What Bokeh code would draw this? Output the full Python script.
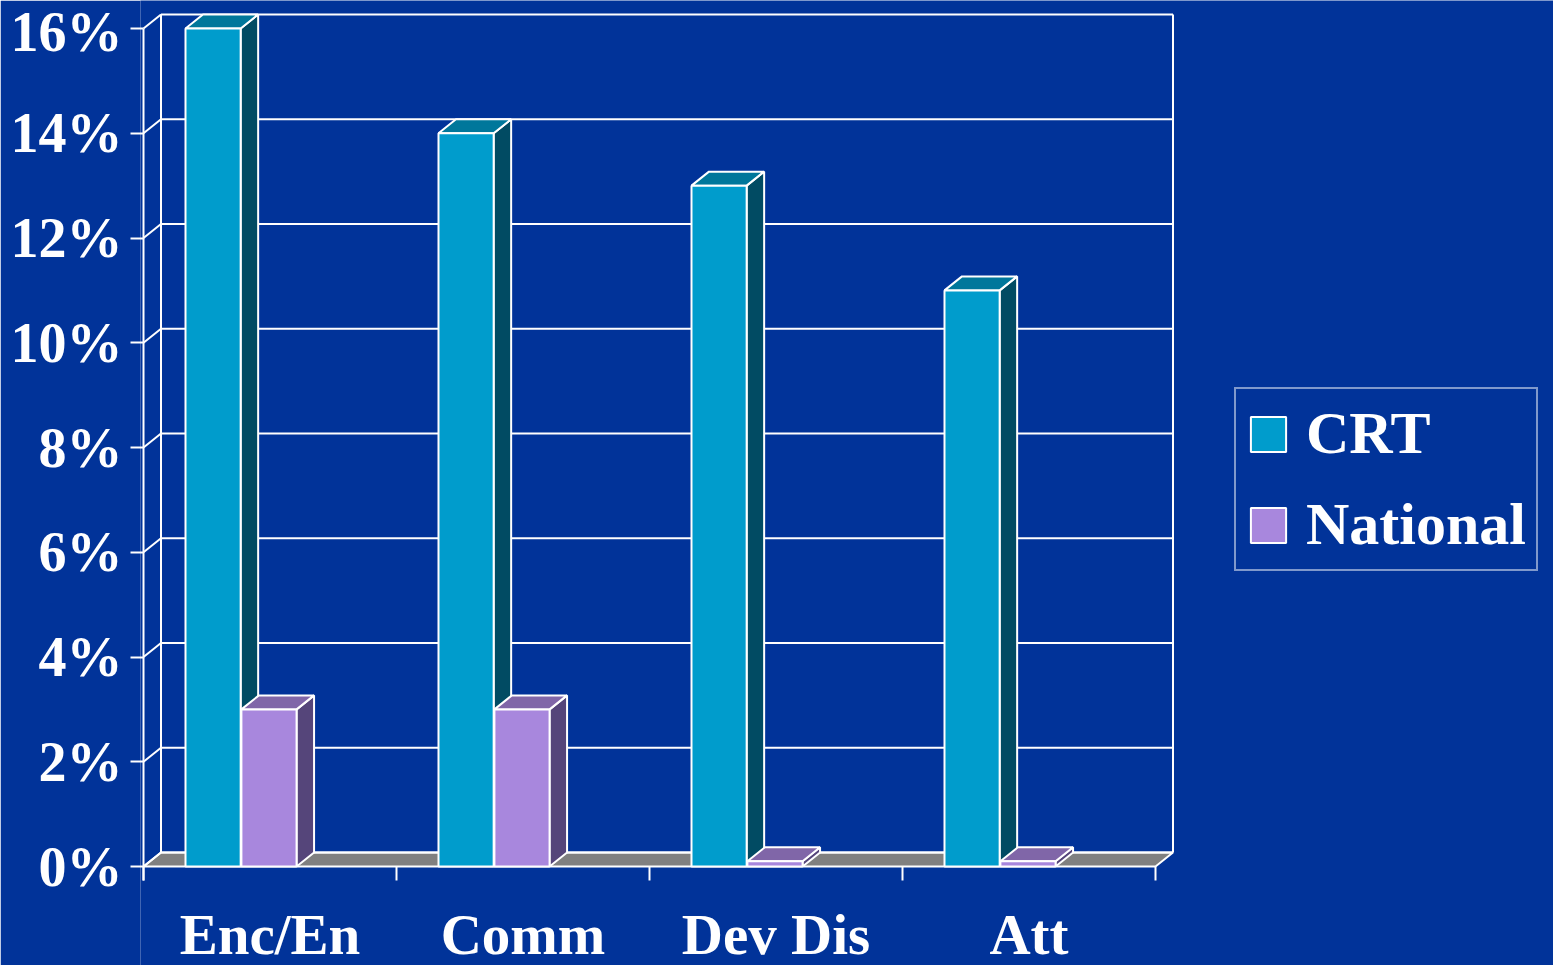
from bokeh.plotting import figure
from bokeh.models import FixedTicker, Legend, LegendItem, Range1d
from bokeh.core.properties import value
from bokeh.embed import file_html
from bokeh.resources import INLINE

# ---- data ----
categories = ["Enc/En", "Comm", "Dev Dis", "Att"]
crt = [16, 14, 13, 11]
national = [3, 3, 0.1, 0.1]
y_ticks = [0, 2, 4, 6, 8, 10, 12, 14, 16]
y_labels = ["0%", "2%", "4%", "6%", "8%", "10%", "12%", "14%", "16%"]

# ---- style / geometry ----
BG = "#013399"
CRT_FRONT, CRT_SIDE, CRT_TOP = "#009ccc", "#014b63", "#00779b"
NAT_FRONT, NAT_SIDE, NAT_TOP = "#a887dd", "#55457a", "#8066a8"
FLOOR = "#808080"
FONT = "Liberation Serif"

PX_X = 253.0      # pixels per category
PX_Y = 52.375     # pixels per percent
DX = 17.5 / PX_X  # depth offset in x units
DY = 14.0 / PX_Y  # depth offset in y units
BAR_W = 0.218
CRT_OFF = 0.166
NAT_OFF = 0.387
YMAX = y_ticks[-1]
N = len(categories)
TICK_LEN = 14 / PX_Y
LABEL_Y = -68 / PX_Y

x0 = -3 / PX_X
y0 = -(965 - 866) / PX_Y
p = figure(width=1553, height=965, output_backend="svg", toolbar_location=None,
           x_range=Range1d(x0, x0 + (1553 - 140) / PX_X), y_range=Range1d(y0, 866 / PX_Y),
           min_border_left=140, min_border_right=0, min_border_top=0, min_border_bottom=0)
p.background_fill_color = BG
p.border_fill_color = BG
p.outline_line_color = None
p.grid.visible = False
p.xaxis.visible = False

# ---- y axis ----
p.yaxis.ticker = FixedTicker(ticks=y_ticks)
p.yaxis.major_label_overrides = {t: l for t, l in zip(y_ticks, y_labels)}
p.yaxis.axis_line_color = None
p.yaxis.major_tick_line_color = "white"
p.yaxis.major_tick_line_width = 2
p.yaxis.major_tick_in = 3
p.yaxis.major_tick_out = 10
p.yaxis.minor_tick_line_color = None
p.yaxis.major_label_text_font = FONT
p.yaxis.major_label_text_font_style = "bold"
p.yaxis.major_label_text_font_size = "56px"
p.yaxis.major_label_text_color = "white"
p.yaxis.major_label_standoff = 8

# ---- walls / floor ----
p.patch([0, N, N + DX, DX], [0, 0, DY, DY], fill_color=FLOOR, line_color="white", line_width=2)
p.segment(x0=[DX] * len(y_ticks), y0=[t + DY for t in y_ticks],
          x1=[N + DX] * len(y_ticks), y1=[t + DY for t in y_ticks], line_color="white", line_width=2)
p.segment(x0=[0] * len(y_ticks), y0=y_ticks, x1=[DX] * len(y_ticks),
          y1=[t + DY for t in y_ticks], line_color="white", line_width=2)
p.segment(x0=[0, DX, N + DX], y0=[-TICK_LEN, DY, DY], x1=[0, DX, N + DX],
          y1=[YMAX, YMAX + DY, YMAX + DY], line_color="white", line_width=2)

# category ticks and labels
cat_edges = list(range(N + 1))
p.segment(x0=cat_edges, y0=[0] * (N + 1), x1=cat_edges, y1=[-TICK_LEN] * (N + 1),
          line_color="white", line_width=2)
p.text(x=[i + 0.5 for i in range(N)], y=[LABEL_Y] * N, text=categories,
       text_font=value(FONT), text_font_style="bold", text_font_size="57px",
       text_color="white", text_align="center", text_baseline="alphabetic")


def bars(values, off, front, side, top):
    lefts = [i + off for i in range(N)]
    rights = [l + BAR_W for l in lefts]
    side_xs = [[r, r + DX, r + DX, r] for r in rights]
    side_ys = [[0, DY, v + DY, v] for v in values]
    top_xs = [[l, l + DX, r + DX, r] for l, r in zip(lefts, rights)]
    top_ys = [[v, v + DY, v + DY, v] for v in values]
    p.patches(side_xs, side_ys, fill_color=side, line_color="white", line_width=2)
    p.patches(top_xs, top_ys, fill_color=top, line_color="white", line_width=2)
    return p.quad(left=lefts, right=rights, bottom=[0] * N, top=values,
                  fill_color=front, line_color="white", line_width=2)


r_crt = bars(crt, CRT_OFF, CRT_FRONT, CRT_SIDE, CRT_TOP)
r_nat = bars(national, NAT_OFF, NAT_FRONT, NAT_SIDE, NAT_TOP)

legend = Legend(items=[LegendItem(label="CRT", renderers=[r_crt]),
                       LegendItem(label="National", renderers=[r_nat])],
                location=(1094, 394))
legend.border_line_color = "white"
legend.border_line_width = 2
legend.background_fill_alpha = 0
legend.label_text_font = FONT
legend.label_text_font_style = "bold"
legend.label_text_font_size = "60px"
legend.label_text_color = "white"
legend.glyph_width = 44
legend.glyph_height = 44
legend.label_height = 60
legend.label_standoff = 16
legend.spacing = 22
legend.padding = 10
legend.margin = 0
p.add_layout(legend, "center")

open("out.html", "w").write(file_html(p, INLINE))
